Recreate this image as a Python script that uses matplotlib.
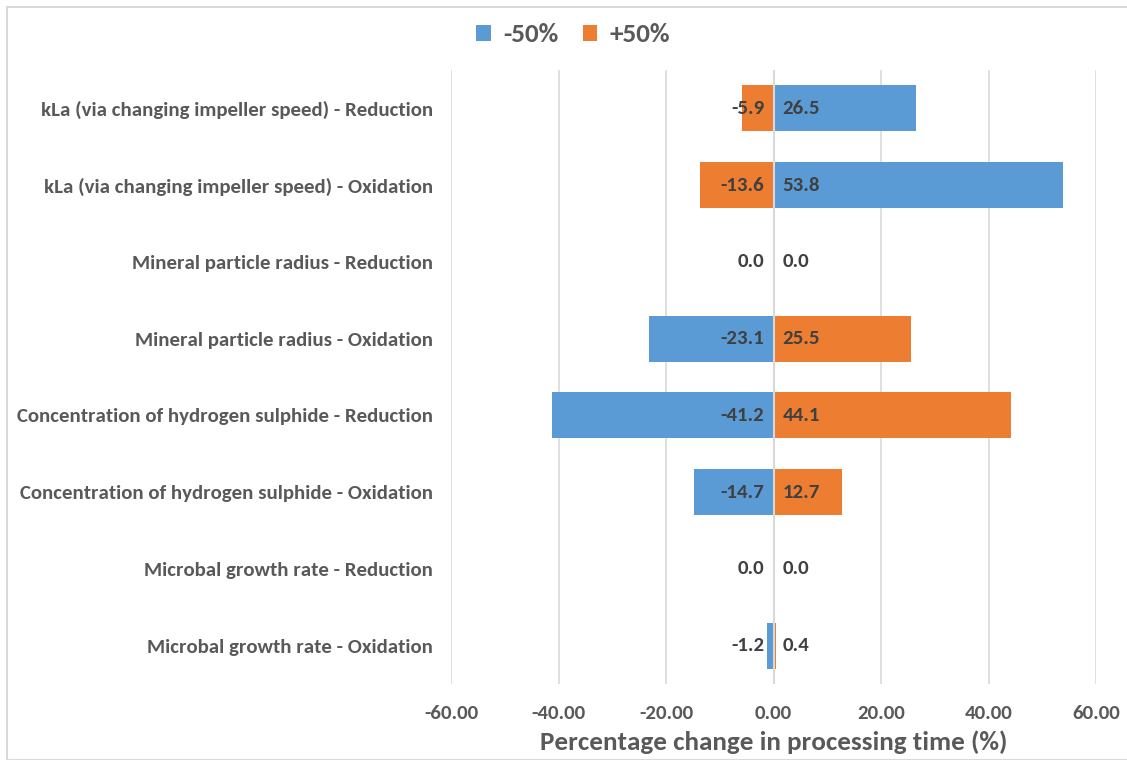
import matplotlib
matplotlib.use("Agg")
import matplotlib.pyplot as plt
from matplotlib.patches import Rectangle
from matplotlib import font_manager as fm

categories = [
    "kLa (via changing impeller speed) - Reduction",
    "kLa (via changing impeller speed) - Oxidation",
    "Mineral particle radius - Reduction",
    "Mineral particle radius - Oxidation",
    "Concentration of hydrogen sulphide - Reduction",
    "Concentration of hydrogen sulphide - Oxidation",
    "Microbal growth rate - Reduction",
    "Microbal growth rate - Oxidation",
]
minus50 = [26.5, 53.8, 0.0, -23.1, -41.2, -14.7, 0.0, -1.2]
plus50 = [-5.9, -13.6, 0.0, 25.5, 44.1, 12.7, 0.0, 0.4]
series_names = ["-50%", "+50%"]
xticks = [-60, -40, -20, 0, 20, 40, 60]

BLUE = "#5b9bd5"
ORANGE = "#ed7d31"
AXIS_GRAY = "#595959"
LABEL_DARK = "#404040"
GRID = "#d9d9d9"

installed = {f.name for f in fm.fontManager.ttflist}
if "Carlito" in installed:
    FONT, WEIGHT, SCALE = "Carlito", "bold", 1.0
else:
    FONT, WEIGHT, SCALE = "Lato", "heavy", 0.92

W, H = 1127, 760
fig = plt.figure(figsize=(W / 100, H / 100), dpi=100)

# outer chart-area border
fig.patches.append(Rectangle((7 / W, 0), 1.2, (H - 7) / H, transform=fig.transFigure,
                             fill=False, edgecolor=GRID, linewidth=1.5))

ax = fig.add_axes([451 / W, (H - 684) / H, (1096 - 451) / W, (684 - 70) / H])
ax.set_xlim(-60, 60)
n = len(categories)
ax.set_ylim(n - 0.5, -0.5)
ypos = list(range(n))

ax.barh(ypos, plus50, height=0.6, color=ORANGE, label=series_names[1], zorder=3)
ax.barh(ypos, minus50, height=0.6, color=BLUE, label=series_names[0], zorder=3)

# value labels anchored at the zero line
def label_series(values, zero_left):
    for y, v in zip(ypos, values):
        left = v < 0 or (v == 0 and zero_left)
        ax.annotate(f"{v:.1f}", xy=(0, y), xytext=(-9 if left else 9, 0),
                    textcoords="offset pixels",
                    ha="right" if left else "left", va="center",
                    fontsize=15 * SCALE, fontweight=WEIGHT, color=LABEL_DARK,
                    family=FONT, zorder=5)

label_series(minus50, True)
label_series(plus50, False)

ax.set_xticks(xticks)
ax.set_xticklabels([f"{t:.2f}" for t in xticks], fontsize=15 * SCALE, fontweight=WEIGHT,
                   color=AXIS_GRAY, family=FONT)
ax.set_yticks(ypos)
ax.set_yticklabels(categories, fontsize=15 * SCALE, fontweight=WEIGHT, color=AXIS_GRAY,
                   family=FONT)
ax.tick_params(axis="both", length=0)
ax.tick_params(axis="x", pad=15)
ax.tick_params(axis="y", pad=13)

ax.xaxis.grid(True, color=GRID, linewidth=1.2, zorder=0)
ax.yaxis.grid(False)
for s in ax.spines.values():
    s.set_visible(False)
ax.axvline(0, color=GRID, linewidth=1.5, zorder=4)

ax.set_xlabel("Percentage change in processing time (%)", fontsize=19.5 * SCALE,
              fontweight=WEIGHT, color=AXIS_GRAY, family=FONT, labelpad=6)

handles, labels = ax.get_legend_handles_labels()
leg = fig.legend(handles=handles[::-1], labels=series_names,
                 loc="center", bbox_to_anchor=(573 / W, 1 - 35 / H), ncol=2,
                 frameon=False, handlelength=0.55, handleheight=0.55,
                 handletextpad=0.45, columnspacing=0.9,
                 prop={"family": FONT, "weight": WEIGHT, "size": 19.5 * SCALE})
for t in leg.get_texts():
    t.set_color(AXIS_GRAY)

fig.savefig("out.png", dpi=100)
